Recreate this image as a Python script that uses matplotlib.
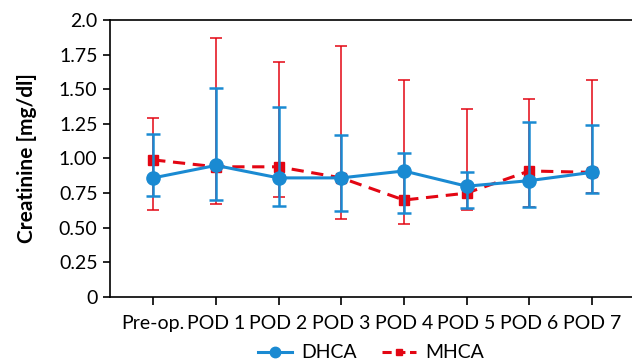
import numpy as np
import matplotlib.pyplot as plt
from matplotlib.lines import Line2D

plt.rcParams['font.family'] = ['Lato', 'DejaVu Sans']

days = ['Pre-op.', 'POD 1', 'POD 2', 'POD 3', 'POD 4', 'POD 5', 'POD 6', 'POD 7']

# DHCA group: mean, upper and lower whisker ends
dhca_mean = [0.86, 0.95, 0.86, 0.86, 0.91, 0.80, 0.84, 0.90]
dhca_high = [1.18, 1.51, 1.37, 1.17, 1.04, 0.90, 1.26, 1.24]
dhca_low = [0.73, 0.70, 0.66, 0.62, 0.61, 0.64, 0.65, 0.75]

# MHCA group
mhca_mean = [0.99, 0.94, 0.94, 0.86, 0.70, 0.75, 0.91, 0.90]
mhca_high = [1.29, 1.87, 1.70, 1.81, 1.57, 1.36, 1.43, 1.57]
mhca_low = [0.63, 0.67, 0.72, 0.56, 0.53, 0.63, 0.65, 0.75]

blue = '#1a8ad2'
red = '#e30613'
red_dash = (0, (4, 2.5))

fig = plt.figure(figsize=(6.32, 3.63), dpi=100)
ax = fig.add_axes([110/632, 66/363, 1 - 110/632, 277/363])

x = np.arange(len(days))
m = np.array(mhca_mean)
d = np.array(dhca_mean)

ax.errorbar(x, m, yerr=[m - np.array(mhca_low), np.array(mhca_high) - m],
            color=red, lw=2.2, ls=red_dash, marker='s', ms=6.5,
            elinewidth=1.1, capsize=4, capthick=1.1, zorder=2)
ax.errorbar(x, d, yerr=[d - np.array(dhca_low), np.array(dhca_high) - d],
            color=blue, lw=2.2, marker='o', ms=9.5,
            elinewidth=1.8, capsize=5, capthick=1.8, zorder=3)

ax.set_xlim(-0.69, 7.64)
ax.set_ylim(0, 2.0)
ax.set_yticks(np.arange(0, 2.01, 0.25))
ax.set_yticklabels(['0', '0.25', '0.50', '0.75', '1.00', '1.25', '1.50', '1.75', '2.0'])
ax.set_xticks(x)
ax.set_xticklabels(days)
ax.tick_params(axis='x', length=6, width=1.2, labelsize=14, pad=7)
ax.tick_params(axis='y', length=5, width=1.2, labelsize=14, pad=4)
ax.spines['right'].set_visible(False)
for s in ['left', 'bottom', 'top']:
    ax.spines[s].set_linewidth(1.2)
ax.set_ylabel('Creatinine [mg/dl]', fontsize=15, fontweight='bold', labelpad=16)

handles = [Line2D([], [], color=blue, lw=2.2, marker='o', ms=7.5),
           Line2D([], [], color=red, lw=2.2, ls=(0, (3, 1.5)), marker='s', ms=5)]
fig.legend(handles, ['DHCA', 'MHCA'], loc='center', bbox_to_anchor=(371/632, 1 - 353/363),
           ncol=2, frameon=False, fontsize=14, handlelength=1.75, handletextpad=0.5,
           columnspacing=1.25)

plt.savefig('out.png', dpi=100)
